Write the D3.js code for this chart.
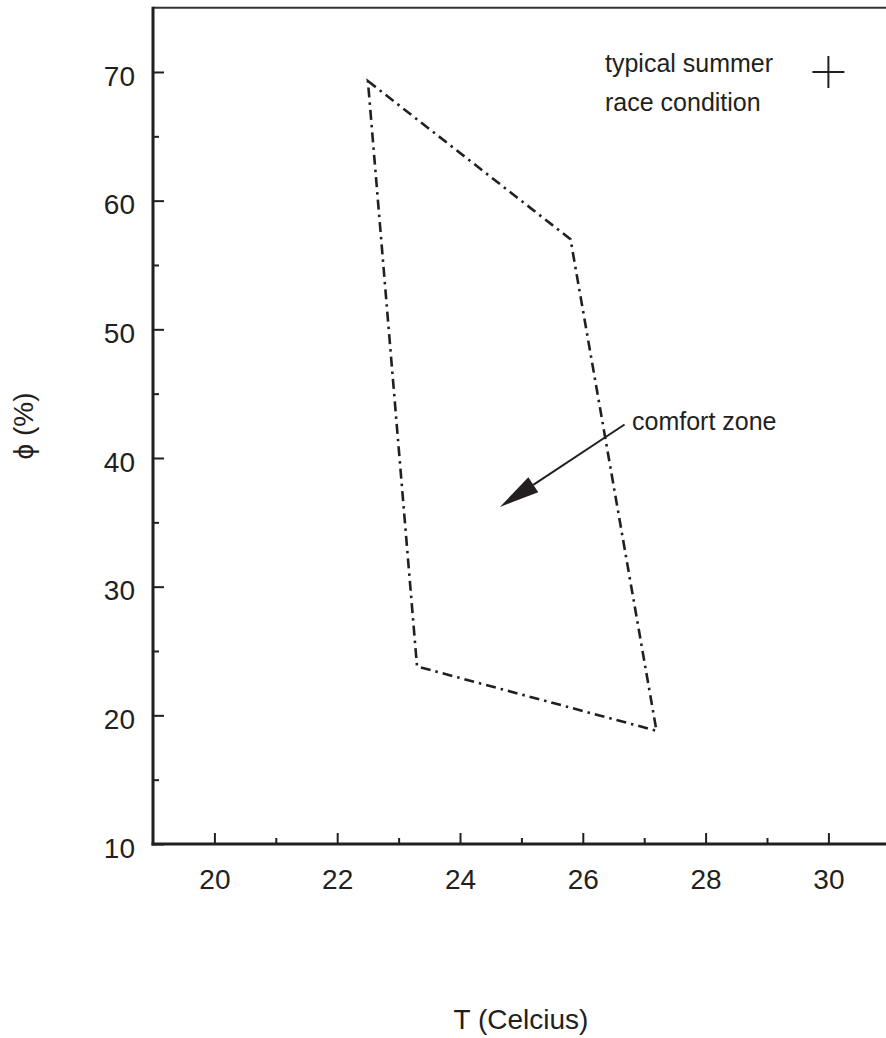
<!DOCTYPE html>
<html>
<head>
<meta charset="utf-8">
<script src="https://cdn.jsdelivr.net/npm/d3@7.9.0/dist/d3.min.js"></script>
<style>
  body { margin: 0; background: #fff; }
  svg { display: block; font-family: "Liberation Sans", Arial, sans-serif; }
  .axis path { display: none; }
  .axis line { stroke: #231f20; stroke-width: 2; }
  .axis text { fill: #231f20; font-size: 28px; }
</style>
</head>
<body>
<div id="chart"></div>
<script>
// comfort zone corners (T in Celsius, relative humidity in %)
const zoneT = [22.5, 25.8, 27.2, 23.3];
const zonePhi = [69.3, 57.0, 18.8, 23.8];

// typical summer race condition
const raceT = [30];
const racePhi = [70];

// arrow for the "comfort zone" label: [start, tip]
const arrowT = [26.68, 24.65];
const arrowPhi = [42.6, 36.2];

const xTicks = [20, 22, 24, 26, 28, 30];
const xMinor = [21, 23, 25, 27, 29];
const yTicks = [10, 20, 30, 40, 50, 60, 70];
const yMinor = [15, 25, 35, 45, 55, 65];

const width = 886;
const height = 1038;
const margin = { top: 7, left: 153, bottom: 844 };

const x = d3.scaleLinear().domain([19, 31]).range([margin.left, margin.left + 12 * 61.4]);
const y = d3.scaleLinear().domain([10, 75]).range([margin.bottom, margin.bottom - 65 * 12.867]);

const svg = d3.select('#chart').append('svg')
  .attr('width', width)
  .attr('height', height);

// ticks (inward)
svg.append('g').attr('class', 'axis')
  .attr('transform', `translate(0, ${margin.bottom})`)
  .call(d3.axisBottom(x).tickValues(xTicks).tickSize(-11))
  .selectAll('text').attr('y', 35).attr('dy', '0.35em');

svg.append('g').attr('class', 'axis')
  .attr('transform', `translate(0, ${margin.bottom})`)
  .call(d3.axisBottom(x).tickValues(xMinor).tickSize(-6).tickFormat(''));

svg.append('g').attr('class', 'axis')
  .attr('transform', `translate(${margin.left}, 0)`)
  .call(d3.axisLeft(y).tickValues(yTicks).tickSize(-11).tickPadding(18))
  .selectAll('text').attr('dy', '0.47em');

svg.append('g').attr('class', 'axis')
  .attr('transform', `translate(${margin.left}, 0)`)
  .call(d3.axisLeft(y).tickValues(yMinor).tickSize(-6).tickFormat(''));

// frame
const [x0, x1] = x.range();
const [yb, yt] = y.range();
svg.append('line')
  .attr('x1', x0).attr('x2', x1).attr('y1', yt).attr('y2', yt)
  .attr('stroke', '#333').attr('stroke-width', 2);
svg.append('line')
  .attr('x1', x0).attr('x2', x0).attr('y1', yt - 1).attr('y2', yb + 1.5)
  .attr('stroke', '#231f20').attr('stroke-width', 3);
svg.append('line')
  .attr('x1', x0 - 1.5).attr('x2', x1).attr('y1', yb).attr('y2', yb)
  .attr('stroke', '#231f20').attr('stroke-width', 3);

// comfort zone polygon
const zone = zoneT.map((t, i) => [x(t), y(zonePhi[i])]);
svg.append('path')
  .attr('d', d3.line()(zone) + 'Z')
  .attr('fill', 'none')
  .attr('stroke', '#231f20')
  .attr('stroke-width', 2.6)
  .attr('stroke-dasharray', '10,5,2.5,5');

// race condition marker
raceT.forEach((t, i) => {
  const cx = x(t), cy = y(racePhi[i]);
  svg.append('path')
    .attr('d', `M${cx - 16},${cy}H${cx + 16}M${cx},${cy - 16}V${cy + 16}`)
    .attr('stroke', '#231f20').attr('stroke-width', 2);
});

svg.append('text').attr('x', 605).attr('y', 72)
  .attr('font-size', 25).attr('fill', '#231f20').text('typical summer');
svg.append('text').attr('x', 605).attr('y', 111)
  .attr('font-size', 25).attr('fill', '#231f20').text('race condition');

// arrow
const ax0 = x(arrowT[0]), ay0 = y(arrowPhi[0]);
const ax1 = x(arrowT[1]), ay1 = y(arrowPhi[1]);
const ang = Math.atan2(ay1 - ay0, ax1 - ax0);
const headLen = 40, headW = 9;
const bx = ax1 - headLen * Math.cos(ang), by = ay1 - headLen * Math.sin(ang);
svg.append('line')
  .attr('x1', ax0).attr('y1', ay0).attr('x2', bx).attr('y2', by)
  .attr('stroke', '#231f20').attr('stroke-width', 2);
svg.append('path')
  .attr('d', `M${ax1},${ay1}L${bx - headW * Math.sin(ang)},${by + headW * Math.cos(ang)}L${bx + headW * Math.sin(ang)},${by - headW * Math.cos(ang)}Z`)
  .attr('fill', '#231f20');

svg.append('text').attr('x', 632).attr('y', 430)
  .attr('font-size', 25).attr('fill', '#231f20').text('comfort zone');

// axis titles
svg.append('text')
  .attr('x', 521).attr('y', 1029)
  .attr('text-anchor', 'middle')
  .attr('font-size', 28).attr('fill', '#231f20')
  .text('T (Celcius)');

svg.append('text')
  .attr('transform', 'translate(33, 426) rotate(-90)')
  .attr('text-anchor', 'middle')
  .attr('font-size', 28).attr('fill', '#231f20')
  .text('\u03d5 (%)');
</script>
</body>
</html>
